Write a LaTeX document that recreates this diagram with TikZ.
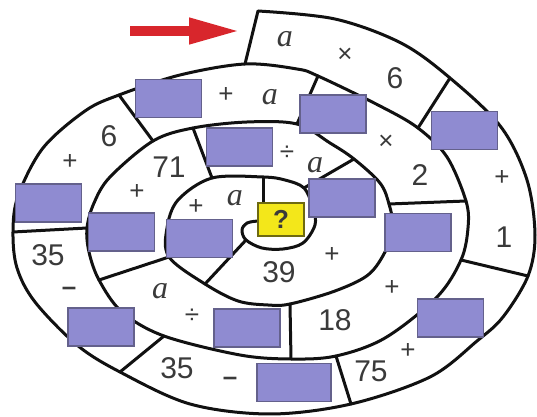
\documentclass[tikz,border=0pt]{standalone}
\usepackage{fontspec}
\setmainfont{Liberation Sans}
\newfontfamily\varfont{Liberation Serif}
\usetikzlibrary{arrows.meta}
\definecolor{Ink}{HTML}{111111}
\definecolor{Digit}{HTML}{3A3A3A}
\definecolor{Lilac}{HTML}{8F8BD1}
\definecolor{LilacEdge}{HTML}{64618C}
\definecolor{Lemon}{HTML}{F3E71A}
\definecolor{LemonEdge}{HTML}{6E6A10}
\definecolor{Signal}{HTML}{D8262C}

\begin{document}
\begin{tikzpicture}[
  x=0.5pt,y=-0.5pt,
  every node/.style={inner sep=0pt,outer sep=0pt},
  num/.style={font=\fontsize{15}{17}\selectfont,text=Digit},
  op/.style={font=\fontsize{13}{15}\selectfont,text=Digit},
  letter/.style={font=\fontsize{16}{18}\selectfont\varfont\itshape,text=Digit},
  blank/.style={draw=LilacEdge,fill=Lilac,line width=0.6pt,minimum width=33pt,minimum height=19pt},
  ask/.style={draw=LemonEdge,fill=Lemon,line width=0.6pt,minimum width=23pt,minimum height=16.5pt,font=\bfseries\fontsize{13}{15}\selectfont,text=Digit},
  track/.style={draw=Ink,line width=1.5pt,line join=round,line cap=round},
  pointer/.style={-{Triangle[length=26pt,width=12pt]},line width=5pt,Signal}
]
  \useasboundingbox (0,0) rectangle (537,417);

  % ends of the cross lines, all lying on the spiral
  \coordinate (d1o) at (258,11);   \coordinate (d1i) at (245,64);
  \coordinate (d2o) at (450,78);   \coordinate (d2i) at (418,128);
  \coordinate (d3o) at (528,276);  \coordinate (d3i) at (461,260);
  \coordinate (d4o) at (351,404);  \coordinate (d4i) at (336,356);
  \coordinate (d5o) at (120,372);  \coordinate (d5i) at (164,336);
  \coordinate (d6o) at (13,232);   \coordinate (d6i) at (87,228);
  \coordinate (d7o) at (119,95);   \coordinate (d7i) at (153,141);
  \coordinate (d8o) at (318,76);   \coordinate (d8i) at (297,124);
  \coordinate (d9o) at (466,201);  \coordinate (d9i) at (389,204);
  \coordinate (d10o) at (291,359); \coordinate (d10i) at (290,304);
  \coordinate (d11o) at (99,280);  \coordinate (d11i) at (169,257);
  \coordinate (d12o) at (193,128); \coordinate (d12i) at (212,178);
  \coordinate (d13o) at (354,159); \coordinate (d13i) at (304,188);
  \coordinate (d14o) at (205,284); \coordinate (d14i) at (246,240);
  \coordinate (d15o) at (263,177); \coordinate (d15i) at (263,203);
  \coordinate (tail) at (258,221);

  % the spiral track
  \draw[track] plot[smooth,tension=0.55] coordinates {
    (d1o) (335,19) (401,43) (d2o) (501,127) (527,180) (535,235) (d3o)
    (503,317) (477,341) (430,377) (d4o) (270,414) (190,404) (d5o)
    (77,345) (35,302) (17,268) (d6o) (18,196) (43,148) (85,111) (d7o)
    (180,75) (d1i)
    (297,69) (d8o) (380,106) (d2i) (447,157) (d9o) (468,228) (d3i)
    (437,297) (385,338) (d4i) (d10o) (240,355) (d5i) (122,312) (d11o)
    (89,252) (d6i) (94,203) (110,177) (d7i) (d12o) (247,122)
    (d8i) (330,143) (d13o) (380,183) (d9i) (393,228) (385,252)
    (368,275) (335,291) (d10i) (268,305) (238,301) (d14o) (d11i)
    (167,228) (178,200) (d12i) (d15o)
    (285,180) (d13i) (313,208) (315,225) (303,243) (283,249) (262,248)
    (d14i) (242,230) (247,223) (tail)};
  \foreach \k in {1,...,15}
    \draw[track] (d\k o) -- (d\k i);

  % empty boxes
  \node[blank] (box1) at (168.5,98.5) {};
  \node[blank] (box2) at (239.5,147) {};
  \node[blank] (box3) at (333,114) {};
  \node[blank] (box4) at (464.5,130.5) {};
  \node[blank] (box5) at (342,198) {};
  \node[blank] (box6) at (418,232.5) {};
  \node[blank] (box7) at (450.5,318) {};
  \node[blank,minimum width=37pt] (box8) at (294,382.5) {};
  \node[blank] (box9) at (247,328) {};
  \node[blank] (box10) at (101,327) {};
  \node[blank] (box11) at (48.5,203) {};
  \node[blank] (box12) at (121.5,232) {};
  \node[blank] (box13) at (199.5,238.5) {};
  \node[ask] (goal) at (281,219.5) {?};

  % outer turn
  \node[letter] (a1) at (285,39) {a};
  \node[op] (times1) at (345,55) {×};
  \node[num] (six1) at (395,78) {6};
  \node[op] (plus1) at (502,178) {+};
  \node[num] (one) at (504,237) {1};
  \node[op] (plus2) at (408,351) {+};
  \node[num] (sevfive) at (371,371) {75};
  \node[op] (minus1) at (230,381) {\bfseries –};
  \node[num] (thirfive1) at (177,368) {35};
  \node[op] (minus2) at (69,291) {\bfseries –};
  \node[num] (thirfive2) at (48,255) {35};
  \node[op] (plus3) at (70,162) {+};
  \node[num] (six2) at (109,136) {6};
  % second turn
  \node[op] (plus4) at (226,95) {+};
  \node[letter] (a2) at (270,97) {a};
  \node[op] (times2) at (386,142) {×};
  \node[num] (two) at (420,175) {2};
  \node[op] (plus5) at (392,288) {+};
  \node[num] (eighteen) at (335,320) {18};
  \node[op] (div1) at (192,316) {÷};
  \node[letter] (a3) at (160,291) {a};
  \node[op] (plus6) at (137,192) {+};
  \node[num] (sevone) at (169,167) {71};
  % third turn
  \node[op] (div2) at (287,153) {÷};
  \node[letter] (a4) at (315,165) {a};
  \node[op] (plus7) at (332,255) {+};
  \node[num] (thirnine) at (279,272) {39};
  \node[op] (plus8) at (196,207) {+};
  \node[letter] (a5) at (235,198) {a};

  % entry arrow
  \coordinate (arrfrom) at (130,31);
  \coordinate (arrto) at (241,31);
  \draw[pointer] (arrfrom) -- (arrto);
\end{tikzpicture}
\end{document}
